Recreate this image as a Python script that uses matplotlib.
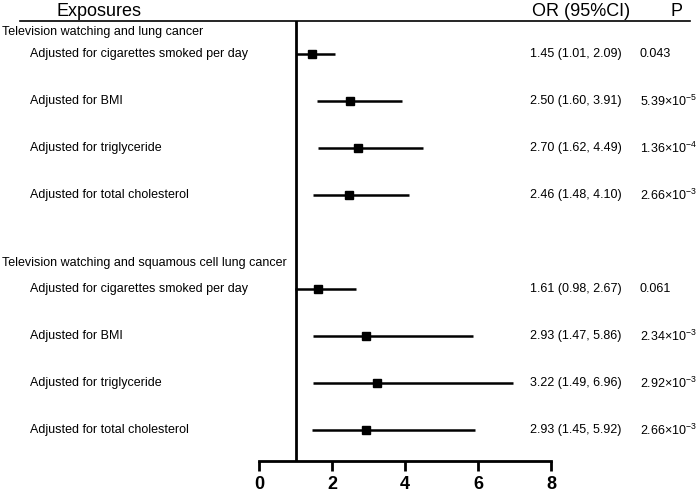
import matplotlib.pyplot as plt
import matplotlib.transforms as mtransforms

plt.rcParams['font.family'] = ['Liberation Sans', 'DejaVu Sans']
plt.rcParams['mathtext.fontset'] = 'custom'
plt.rcParams['mathtext.rm'] = 'Liberation Sans'

groups = ['Television watching and lung cancer',
          'Television watching and squamous cell lung cancer']
adjust_labels = ['Adjusted for cigarettes smoked per day',
                 'Adjusted for BMI',
                 'Adjusted for triglyceride',
                 'Adjusted for total cholesterol']
or_vals = [1.45, 2.50, 2.70, 2.46, 1.61, 2.93, 3.22, 2.93]
ci_low = [1.01, 1.60, 1.62, 1.48, 0.98, 1.47, 1.49, 1.45]
ci_high = [2.09, 3.91, 4.49, 4.10, 2.67, 5.86, 6.96, 5.92]
p_labels = ['0.043', r'5.39×10$^{\mathregular{-5}}$', r'1.36×10$^{\mathregular{-4}}$',
            r'2.66×10$^{\mathregular{-3}}$', '0.061', r'2.34×10$^{\mathregular{-3}}$',
            r'2.92×10$^{\mathregular{-3}}$', r'2.66×10$^{\mathregular{-3}}$']

# row positions (layout)
rows = [0, 1, 2, 3, 5, 6, 7, 8]
group_rows = [-0.47, 4.45]

fig = plt.figure(figsize=(6.99, 4.93), dpi=100)
ax = fig.add_axes([259/699, 1 - 461/493, 292/699, 440/493])
ax.set_xlim(0, 8)
ax.set_ylim(8.66, -0.7)

for y, o, lo, hi in zip(rows, or_vals, ci_low, ci_high):
    ax.plot([lo, hi], [y, y], color='black', lw=1.8, solid_capstyle='butt')
    ax.plot(o, y, marker='s', color='black', ms=5.5)

ax.axvline(1, color='black', lw=2)

for s in ['top', 'right', 'left']:
    ax.spines[s].set_visible(False)
ax.spines['bottom'].set_linewidth(2)
ax.set_yticks([])
ax.set_xticks([0, 2, 4, 6, 8])
ax.tick_params(axis='x', length=7.5, width=2, labelsize=13, pad=3)
for t in ax.get_xticklabels():
    t.set_fontweight('bold')

tr = mtransforms.blended_transform_factory(fig.transFigure, ax.transData)

# header
fig.text(99/699, 1 - 11/493, 'Exposures', ha='center', va='center', fontsize=13)
fig.text(581/699, 1 - 11/493, 'OR (95%CI)', ha='center', va='center', fontsize=13)
fig.text(677/699, 1 - 11/493, 'P', ha='center', va='center', fontsize=13)
fig.add_artist(plt.Line2D([20/699, 690/699], [1 - 21/493, 1 - 21/493],
                          color='black', lw=1.2))

for g, y in zip(groups, group_rows):
    ax.text(2/699, y, g, transform=tr, ha='left', va='center', fontsize=9)

for i, y in enumerate(rows):
    ax.text(30/699, y, adjust_labels[i % 4], transform=tr, ha='left', va='center', fontsize=9)
    ax.text(530/699, y, f'{or_vals[i]:.2f} ({ci_low[i]:.2f}, {ci_high[i]:.2f})',
            transform=tr, ha='left', va='center', fontsize=9)
    ax.text(640/699, y, p_labels[i], transform=tr, ha='left', va='center', fontsize=9)

fig.savefig('out.png', dpi=100)
